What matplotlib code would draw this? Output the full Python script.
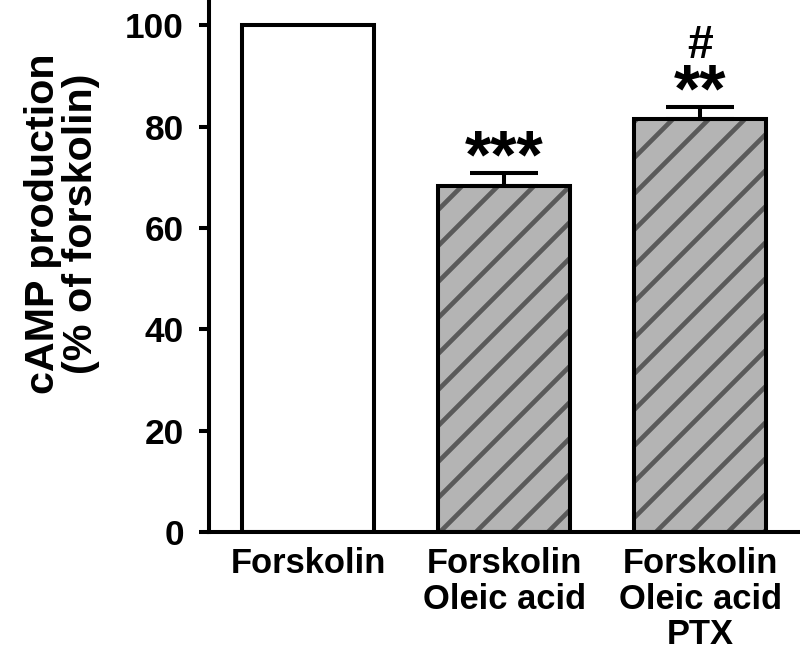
import numpy as np
import matplotlib
matplotlib.use('Agg')
import matplotlib.pyplot as plt

# values
labels = ['Forskolin', 'Forskolin\nOleic acid', 'Forskolin\nOleic acid\nPTX']
values = [100, 68.3, 81.5]
errors = [0, 2.6, 2.4]
marks = ['', '***', '**']
hash_marks = ['', '', '#']
yticks = [0, 20, 40, 60, 80, 100]

DPI = 108
plt.rcParams['font.family'] = ['Liberation Sans', 'DejaVu Sans']
plt.rcParams['font.weight'] = 'bold'
plt.rcParams['hatch.linewidth'] = 3.1

fig = plt.figure(figsize=(800 / DPI, 650 / DPI), dpi=DPI)
ax = fig.add_axes([0.261, 0.1815, 0.739, 0.8185])

x = np.arange(len(values))
faces = ['white', '#b4b4b4', '#b4b4b4']
hatches = [None, '/', '/']
bw = 0.673

# hatch layer (hatch takes the edge colour), then a black outline on top
for xi, v, fc, h in zip(x, values, faces, hatches):
    ax.bar(xi, v, width=bw, color=fc, edgecolor='#5a5a5a' if h else fc,
           hatch=h, linewidth=0, zorder=2)
ax.bar(x, values, width=bw, fill=False, edgecolor='black', linewidth=2.7, zorder=3)

# upward-only error bars
for xi, v, e in zip(x, values, errors):
    if e > 0:
        ax.errorbar(xi, v, yerr=[[0], [e]], fmt='none', ecolor='black',
                    elinewidth=2.7, capsize=22.5, capthick=2.7, zorder=4)

for xi, v, e, m in zip(x, values, errors, marks):
    if m:
        ax.text(xi, v + e - 3.7, m, ha='center', va='bottom',
                fontsize=45, fontweight='bold')
for xi, v, e, m in zip(x, values, errors, hash_marks):
    if m:
        ax.text(xi, v + e + 7.6, m, ha='center', va='bottom',
                fontsize=31, fontweight='bold')

ax.set_xlim(-0.508, 2.508)
ax.set_ylim(0, 105)
ax.set_yticks(yticks)
ax.set_xticks(x)
ax.set_xticklabels(labels, fontsize=23, fontweight='bold', linespacing=1.1)
ax.tick_params(axis='x', length=0, pad=10)
ax.tick_params(axis='y', length=6.5, width=2.7, labelsize=23.5, pad=10)
for lab in ax.get_yticklabels():
    lab.set_fontweight('bold')

for s in ['top', 'right']:
    ax.spines[s].set_visible(False)
for s in ['left', 'bottom']:
    ax.spines[s].set_linewidth(2.7)

ax.set_ylabel('cAMP production\n(% of forskolin)', fontsize=27.5,
              fontweight='bold', linespacing=1.0)
ax.yaxis.set_label_coords(-0.184, 0.58)

fig.savefig('out.png', dpi=DPI)
